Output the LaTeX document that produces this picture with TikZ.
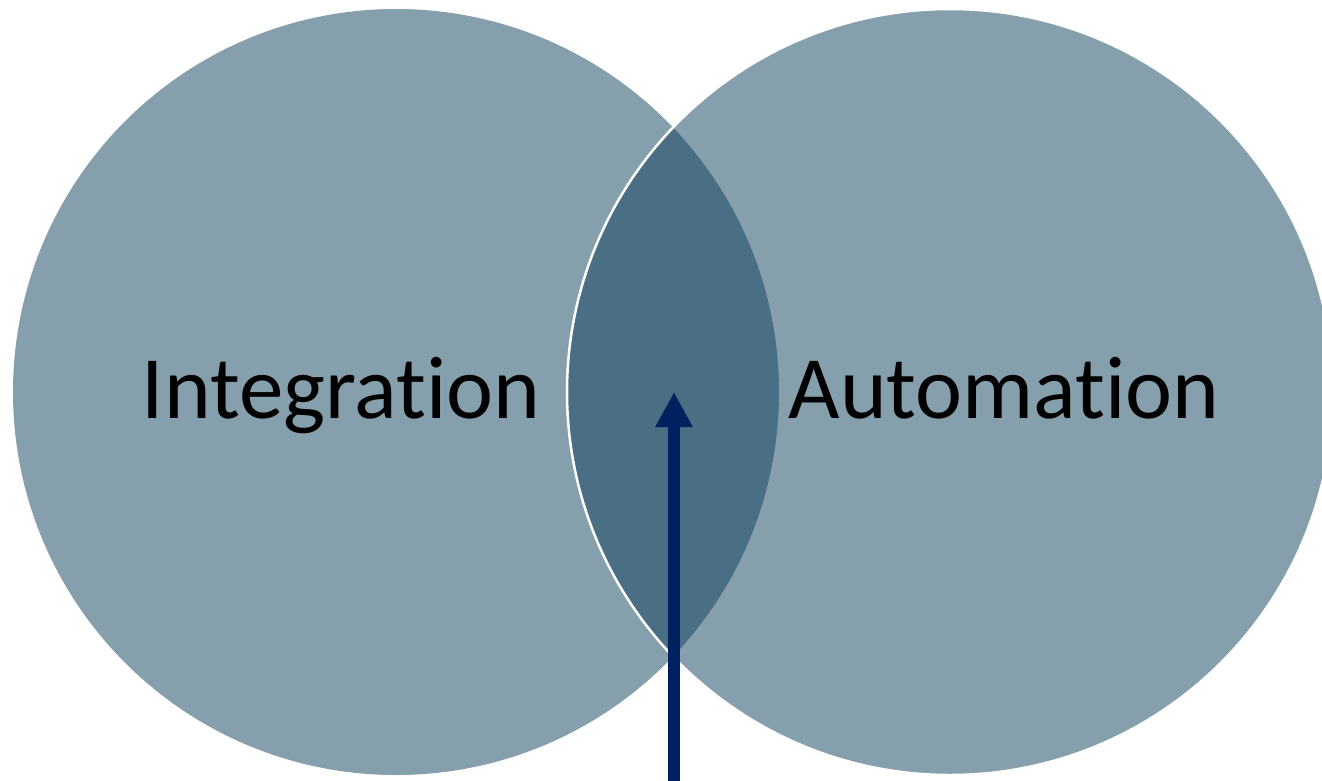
\documentclass[tikz,border=0pt]{standalone}
\usepackage{fontspec}
\setmainfont{Carlito}[Ligatures={NoCommon,NoRequired,NoContextual}]
\usetikzlibrary{arrows.meta}
\definecolor{vennlight}{HTML}{869FAC}
\definecolor{venndark}{HTML}{4A6F84}
\definecolor{arrowblue}{HTML}{002060}
\tikzset{
  venncircle/.style={fill=vennlight},
  vennlabel/.style={anchor=base, inner sep=0pt, text=black, font=\fontsize{89}{100}\selectfont},
  uparrow/.style={draw=arrowblue, line width=12pt, -{Triangle[width=35pt,length=35pt]}}
}
\begin{document}
\begin{tikzpicture}[x=1pt,y=-1pt]
\useasboundingbox (0,0) rectangle (1322,780);
\clip (0,0) rectangle (1322,780);
\coordinate (cL) at (396,392);
\coordinate (cR) at (950,392);
\fill[venncircle] (cL) circle[radius=383pt];
\fill[venncircle] (cR) circle[radius=383pt];
\begin{scope}
  \clip (cL) circle[radius=383pt];
  \fill[venndark] (cR) circle[radius=383pt];
\end{scope}
\draw[white, line width=2.5pt] (cR) circle[radius=383pt];
\node[vennlabel] (integ) at (341,418) {Integrat\kern0pt ion};
\node[vennlabel] (autom) at (1004,418) {Automat\kern0pt ion};
\coordinate (tail) at (674,781);
\coordinate (tip) at (674,392);
\draw[uparrow] (tail) -- (tip);
\end{tikzpicture}
\end{document}
